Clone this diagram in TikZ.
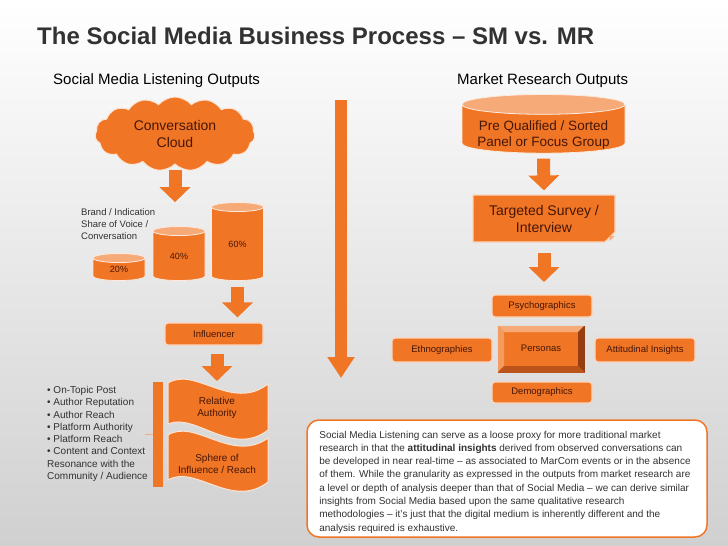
\documentclass[tikz,border=0pt]{standalone}
\usepackage{fontspec}
\setmainfont{Liberation Sans}
\usetikzlibrary{shapes.geometric,shapes.symbols,shapes.misc,arrows.meta}

\definecolor{orng}{RGB}{240,118,38}
\definecolor{orngl}{RGB}{246,170,120}
\definecolor{orngd}{RGB}{150,62,18}
\definecolor{txtd}{RGB}{70,22,6}
\definecolor{ttl}{RGB}{50,50,50}
\definecolor{bgbot}{RGB}{208,208,208}

\begin{document}
\begin{tikzpicture}[x=1pt,y=1pt,yscale=-1,
    box/.style={draw=white!70!orng, line width=1.2pt, fill=orng, rounded corners=3pt, text=txtd,
        font=\fontsize{9.5}{11}\selectfont, minimum width=100pt, minimum height=22pt, inner sep=1pt},
    can/.style={cylinder, shape border rotate=90, draw=white!85!orng, line width=0.8pt,
        cylinder uses custom fill, cylinder body fill=orng, cylinder end fill=orngl,
        aspect=0.5, inner sep=0pt, text=txtd, font=\fontsize{9}{11}\selectfont},
    bigarrow/.style={draw=orng, line width=13pt, -{Triangle[width=30pt,length=15pt]}},
    flag/.style={fill=orng, draw=white!80!orng, line width=1pt},
    hdr/.style={font=\fontsize{15}{17}\selectfont, text=black, inner sep=0pt},
    smalltxt/.style={font=\fontsize{9.5}{12}\selectfont, align=left, text=ttl, inner sep=0pt}]
    \useasboundingbox (0,0) rectangle (728,546);

    %Shape: Background
    \shade[top color=white, middle color=white, bottom color=bgbot] (0,0) rectangle (728,546);

    % Text Node
    \node[anchor=base west, font=\bfseries\fontsize{24}{26}\selectfont, text=ttl, inner sep=0pt] (title) at (37,44) {The Social Media Business Process -- SM vs. MR};
    % Text Node
    \node[hdr, anchor=base west] (smhd) at (53,84) {Social Media Listening Outputs};
    % Text Node
    \node[hdr, anchor=base west] (mrhd) at (457,84) {Market Research Outputs};

    %Shape: Cloud
    \node[cloud, cloud puffs=15, cloud puff arc=100, aspect=2.2, fill=orng, draw=white!80!orng, line width=1pt,
        minimum width=160pt, minimum height=74pt, inner sep=0pt, align=center, text=txtd,
        font=\fontsize{14}{17}\selectfont] (cloud) at (175,134) {Conversation\\Cloud};

    % Text Node
    \node[smalltxt, anchor=north west] (brand) at (81,208) {Brand / Indication\\Share of Voice /\\Conversation};

    %Shape: Cylinders
    \node[can, minimum width=52pt, minimum height=27pt] (c20) at (119,269.5) {20\%};
    \node[can, minimum width=52pt, minimum height=54pt] (c40) at (179,256) {40\%};
    \node[can, minimum width=52pt, minimum height=78pt] (c60) at (237.5,244) {60\%};

    %Shape: Influencer
    \node[box, minimum width=98pt] (infl) at (214,334) {Influencer};

    %Shape: Flags
    \draw[flag] (168,383) .. controls (195,366) and (232,412) .. (268,384) -- (268,430)
        .. controls (232,458) and (195,412) .. (168,424) -- cycle;
    \draw[flag] (168,435) .. controls (195,418) and (232,464) .. (268,438) -- (268,482)
        .. controls (232,510) and (195,464) .. (168,480) -- cycle;
    \coordinate (flagtop) at (217,381);
    % Text Node
    \node[align=center, text=txtd, font=\fontsize{10}{12.5}\selectfont] (rel) at (217,408) {Relative\\Authority};
    % Text Node
    \node[align=center, text=txtd, font=\fontsize{10}{12.5}\selectfont] (sph) at (217,464) {Sphere of\\Influence / Reach};

    %Shape: Bracket
    \fill[orng] (153,382) rectangle (163,487);
    \draw[orng!60!white, line width=1pt] (145,434) -- (153,434);
    % Text Node
    \node[smalltxt, anchor=north west, font=\fontsize{10}{12.3}\selectfont] (bul) at (47,386)
        {• On-Topic Post\\• Author Reputation\\• Author Reach\\• Platform Authority\\• Platform Reach\\• Content and Context\\Resonance with the\\Community / Audience};

    %Block arrows (left)
    \draw[bigarrow, shorten <=5pt] (cloud.south) -- (cloud.south |- c60.north);
    \draw[bigarrow, shorten <=6pt, shorten >=5pt] (c60.south) -- (c60.south |- infl.north);
    \draw[bigarrow, shorten <=8pt] (infl.south -| flagtop) -- (flagtop);

    %Central arrow
    \coordinate (vtop) at (341,100);
    \coordinate (vbot) at (341,378);
    \draw[bigarrow, line width=12pt, -{Triangle[width=26pt,length=21pt]}] (vtop) -- (vbot);

    %Shape: Panel cylinder
    \node[can, minimum width=163pt, minimum height=52pt, aspect=0.15, align=center,
        font=\fontsize{13.5}{16}\selectfont] (pq) at (543.5,129) {\phantom{Pre Qualified / Sorted}\\\phantom{Panel or Focus Group}};
    % Text Node
    \node[align=center, text=txtd, font=\fontsize{13.5}{16}\selectfont] (pqtxt) at (543.5,135) {Pre Qualified / Sorted\\Panel or Focus Group};

    %Shape: Survey
    \node[chamfered rectangle, chamfered rectangle corners=south east, chamfered rectangle xsep=5pt,
        chamfered rectangle ysep=5pt, fill=orng, draw=white!70!orng, line width=1.2pt,
        minimum width=142pt, minimum height=47pt, align=center, text=txtd,
        font=\fontsize{14}{17}\selectfont] (ts) at (544,218.5) {Targeted Survey /\\Interview};
    \fill[orngl] (609.5,241) -- (614.5,236) -- (609.5,236) -- cycle;

    %Block arrows (right)
    \draw[bigarrow, shorten <=5pt, shorten >=4pt] (pq.south) -- (ts.north);
    \draw[bigarrow, shorten <=10pt, shorten >=13pt] (ts.south) -- (ts.south |- 0,295);

    %Shape: Persona boxes
    \node[box] (psy) at (542,306) {Psychographics};
    \node[box, minimum height=24pt] (eth) at (442,350) {Ethnographies};
    \node[box, minimum height=24pt] (att) at (645,350) {Attitudinal Insights};
    \node[box, minimum height=21pt] (dem) at (542,392.5) {Demographics};

    %Shape: Personas
    \fill[orng] (497,325) rectangle (585,373);
    \fill[orngl] (497,325) -- (585,325) -- (578,332) -- (504,332) -- cycle;
    \fill[orngl!70!orng] (497,325) -- (504,332) -- (504,366) -- (497,373) -- cycle;
    \fill[orngd] (585,325) -- (585,373) -- (578,366) -- (578,332) -- cycle;
    \fill[orngd!60!orng] (497,373) -- (585,373) -- (578,366) -- (504,366) -- cycle;
    \draw[white!75!gray, line width=1pt] (497,325) rectangle (585,373);
    % Text Node
    \node[text=txtd, font=\fontsize{9.5}{11}\selectfont] (pers) at (541,348) {Personas};

    %Shape: Note
    \node[draw=orng, line width=1.5pt, fill=white, rounded corners=12pt, minimum width=400pt,
        minimum height=117pt] (smbox) at (507,478.5) {};
    % Text Node
    \node[align=left, text=ttl, font=\fontsize{10}{13.3}\selectfont, inner sep=0pt] (smnote) at (505,482)
        {Social Media Listening can serve as a loose proxy for more traditional market\\
        research in that the \textbf{attitudinal insights} derived from observed conversations can\\
        be developed in near real-time -- as associated to MarCom events or in the absence\\
        of them. While the granularity as expressed in the outputs from market research are\\
        a level or depth of analysis deeper than that of Social Media -- we can derive similar\\
        insights from Social Media based upon the same qualitative research\\
        methodologies -- it’s just that the digital medium is inherently different and the\\
        analysis required is exhaustive.};
\end{tikzpicture}
\end{document}
